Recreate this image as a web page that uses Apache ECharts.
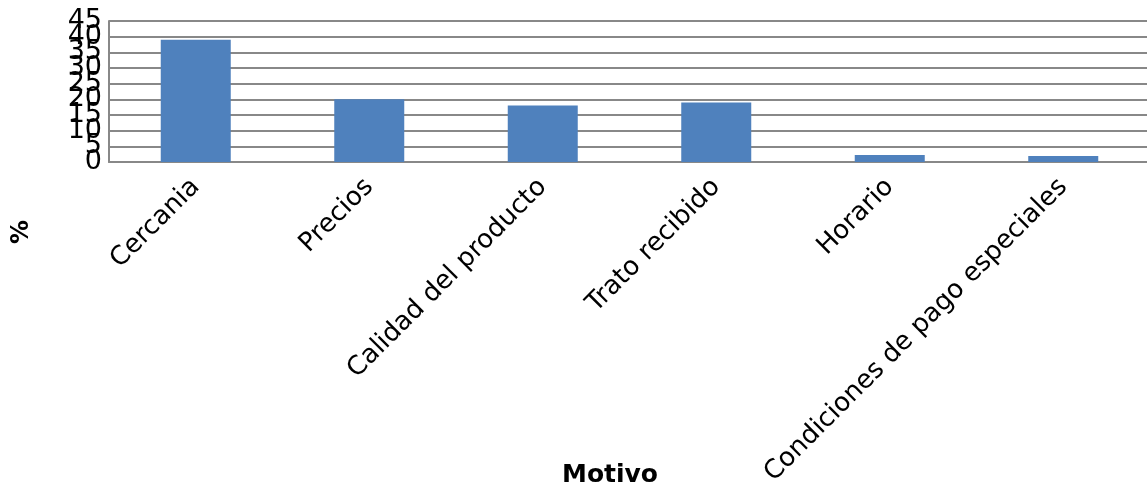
<!DOCTYPE html>
<html>
<head>
<meta charset="utf-8">
<script src="https://cdn.jsdelivr.net/npm/echarts@6/dist/echarts.min.js"></script>
<style>
  html, body { margin: 0; padding: 0; background: #ffffff; }
  #chart { width: 1147px; height: 488px; }
</style>
</head>
<body>
<div id="chart"></div>
<script>
// Motivos de elección (%)
const categories = ['Cercania', 'Precios', 'Calidad del producto', 'Trato recibido', 'Horario', 'Condiciones de pago especiales'];
const values = [39, 20, 18, 19, 2.2, 1.9];
const yTickLabels = ['0', '5', '10', '15', '20', '25', '30', '35', '40', '45'];
const yRange = { min: 0, max: 45, interval: 5 };
const xTitle = 'Motivo';
const yTitle = '%';

const chart = echarts.init(document.getElementById('chart'));
const font = 'DejaVu Sans';

chart.setOption({
  animation: false,
  grid: { left: 109, right: -3, top: 21, bottom: 326, containLabel: false, outerBoundsMode: 'none' },
  xAxis: {
    type: 'category',
    data: categories,
    axisLine: { lineStyle: { color: '#888', width: 2 } },
    axisTick: { show: false },
    axisLabel: { rotate: 45, interval: 0, fontFamily: font, fontSize: 26, color: '#000', margin: 21 }
  },
  yAxis: [
    {
      // value scale: gridlines and bar heights
      type: 'value',
      min: yRange.min, max: yRange.max, interval: yRange.interval,
      axisLine: { show: true, lineStyle: { color: '#888', width: 2 } },
      axisTick: { show: false },
      axisLabel: { show: false },
      splitLine: { lineStyle: { color: '#888', width: 2 } }
    },
    {
      // tick labels, every one of them shown even where they crowd
      type: 'category',
      data: yTickLabels,
      boundaryGap: false,
      position: 'left',
      axisLine: { show: false },
      axisTick: { show: false },
      splitLine: { show: false },
      axisLabel: { interval: 0, fontFamily: font, fontSize: 27, color: '#000', margin: 7 }
    }
  ],
  graphic: [
    {
      type: 'text', left: 562, top: 463,
      style: { text: xTitle, font: 'bold 25px "DejaVu Sans"', fill: '#000' }
    },
    {
      type: 'text', x: 10, y: 244, rotation: Math.PI / 2,
      style: { text: yTitle, font: 'bold 24px "DejaVu Sans"', fill: '#000', verticalAlign: 'top' }
    }
  ],
  series: [{
    type: 'bar',
    yAxisIndex: 0,
    data: values,
    barWidth: 70,
    itemStyle: { color: '#4f81bd' }
  }]
});
</script>
</body>
</html>
